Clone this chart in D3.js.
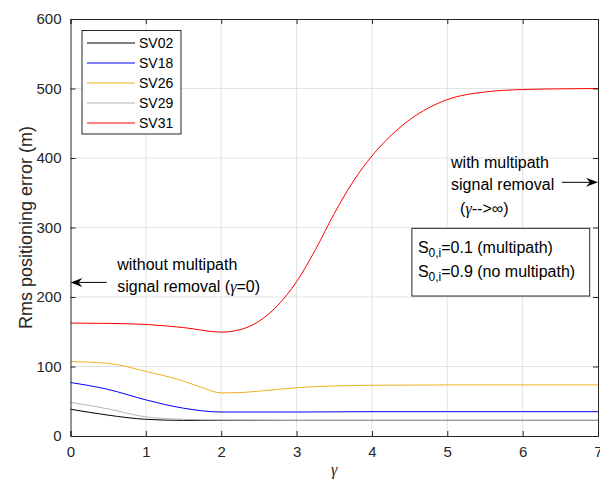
<!DOCTYPE html>
<html>
<head>
<meta charset="utf-8">
<script src="https://cdn.jsdelivr.net/npm/d3@7"></script>
<style>
  html, body { margin: 0; padding: 0; background: #fff; }
  svg { display: block; font-family: "Liberation Sans", Arial, Helvetica, sans-serif; }
</style>
</head>
<body>
<svg id="chart" width="600" height="484"></svg>
<script>
// RMS positioning error versus the weighting exponent gamma, per satellite
const seriesNames = ["SV02", "SV18", "SV26", "SV29", "SV31"];
const seriesColors = ["#000000", "#0000ff", "#edb120", "#b3b3b3", "#ff0000"];

const gammaSV02 = [0, 0.5, 1, 1.5, 2, 3, 4, 5, 6, 7];
const errSV02   = [38.5, 30, 24, 22.5, 22.5, 22.5, 22.5, 22.5, 22.5, 22.5];

const gammaSV18 = [0, 0.5, 1, 1.5, 2, 2.5, 3, 4, 5, 6, 7];
const errSV18   = [77, 67, 52, 40, 34.5, 34.5, 34.5, 35, 35, 35, 35];

const gammaSV26 = [0, 0.5, 1, 1.5, 1.75, 2, 2.25, 2.5, 3, 3.5, 4, 5, 6, 7];
const errSV26   = [107, 104.5, 93, 79, 69.5, 62, 62.5, 64.5, 69.5, 72, 73, 73.5, 73.5, 73.5];

const gammaSV29 = [0, 0.5, 1, 1.5, 2, 3, 4, 5, 6, 7];
const errSV29   = [48.5, 39, 27.5, 24, 23, 22.5, 22.5, 22.5, 22.5, 22.5];

const gammaSV31 = [0, 0.5, 1, 1.5, 2, 2.25, 2.5, 2.75, 3, 3.25, 3.5, 3.75, 4, 4.25, 4.5, 4.75, 5, 5.5, 6, 6.5, 7];
const errSV31   = [162.5, 162, 160.5, 156, 149.5, 153, 165, 188, 222, 268, 320, 366, 403, 432, 455, 472, 484, 495, 498.5, 499.5, 500];

const xTicks = [0, 1, 2, 3, 4, 5, 6, 7];
const yTicks = [0, 100, 200, 300, 400, 500, 600];

const seriesX = [gammaSV02, gammaSV18, gammaSV26, gammaSV29, gammaSV31];
const seriesY = [errSV02, errSV18, errSV26, errSV29, errSV31];

const W = 600, H = 484;
const margin = { left: 70.5, right: 2, top: 19, bottom: 48 };
const iw = W - margin.left - margin.right;
const ih = H - margin.top - margin.bottom;

const svg = d3.select("#chart");
const g = svg.append("g").attr("transform", `translate(${margin.left},${margin.top})`);

const x = d3.scaleLinear().domain([0, 7]).range([0, iw]);
const y = d3.scaleLinear().domain([0, 600]).range([ih, 0]);

const axisColor = "#262626";
const gridColor = "#e3e3e3";
const tickFont = 15;
const noteFont = 16;

// grid
g.append("g").selectAll("line").data(xTicks.slice(1, -1)).join("line")
  .attr("x1", d => x(d)).attr("x2", d => x(d))
  .attr("y1", 0).attr("y2", ih)
  .attr("stroke", gridColor).attr("stroke-width", 1);
g.append("g").selectAll("line").data(yTicks.slice(1, -1)).join("line")
  .attr("y1", d => y(d)).attr("y2", d => y(d))
  .attr("x1", 0).attr("x2", iw)
  .attr("stroke", gridColor).attr("stroke-width", 1);

// series
const line = d3.line()
  .x(d => x(d[0]))
  .y(d => y(d[1]))
  .curve(d3.curveMonotoneX);

seriesNames.forEach((name, i) => {
  const pts = seriesX[i].map((gv, k) => [gv, seriesY[i][k]]);
  g.append("path")
    .datum(pts)
    .attr("fill", "none")
    .attr("stroke", seriesColors[i])
    .attr("stroke-width", 1)
    .attr("d", line);
});

// axes (ticks point inward, box on all four sides)
const tickLen = 5;
const xAxisB = d3.axisBottom(x).tickValues(xTicks).tickSize(-tickLen).tickPadding(10).tickFormat(d3.format("d"));
const xAxisT = d3.axisTop(x).tickValues(xTicks).tickSize(-tickLen).tickFormat("");
const yAxisL = d3.axisLeft(y).tickValues(yTicks).tickSize(-tickLen).tickPadding(9).tickFormat(d3.format("d"));
const yAxisR = d3.axisRight(y).tickValues(yTicks).tickSize(-tickLen).tickFormat("");

function styleAxis(sel) {
  sel.selectAll(".domain").attr("stroke", axisColor).attr("stroke-width", 1);
  sel.selectAll(".tick line").attr("stroke", axisColor);
  sel.selectAll(".tick text")
    .attr("fill", axisColor)
    .attr("font-size", tickFont)
    .attr("font-family", "Liberation Sans, Arial, sans-serif");
}

g.append("g").attr("transform", `translate(0,${ih})`).call(xAxisB).call(styleAxis);
g.append("g").call(xAxisT).call(styleAxis);
g.append("g").call(yAxisL).call(styleAxis);
g.append("g").attr("transform", `translate(${iw},0)`).call(yAxisR).call(styleAxis);

// axis labels
svg.append("text")
  .attr("x", margin.left + iw / 2)
  .attr("y", 475)
  .attr("text-anchor", "middle")
  .attr("font-family", "Liberation Serif, Times New Roman, serif")
  .attr("font-style", "italic")
  .attr("font-size", 16)
  .attr("fill", axisColor)
  .text("γ");

svg.append("text")
  .attr("transform", `translate(32,${margin.top + ih / 2}) rotate(-90)`)
  .attr("text-anchor", "middle")
  .attr("font-size", 18)
  .attr("fill", axisColor)
  .text("Rms positioning error (m)");

// legend
const lg = g.append("g").attr("transform", `translate(${82 - margin.left},${30.5 - margin.top})`);
lg.append("rect")
  .attr("width", 99).attr("height", 103.5)
  .attr("fill", "#fff").attr("stroke", axisColor).attr("stroke-width", 1);
seriesNames.forEach((name, i) => {
  const yy = 12.5 + i * 20;
  lg.append("line")
    .attr("x1", 5).attr("x2", 53)
    .attr("y1", yy).attr("y2", yy)
    .attr("stroke", seriesColors[i]).attr("stroke-width", 1);
  lg.append("text")
    .attr("x", 57).attr("y", yy + 5)
    .attr("font-size", 14).attr("fill", "#000")
    .text(name);
});

// arrows with concave heads
function arrow(x0, y0, x1, y1) {
  const dx = x1 - x0, dy = y1 - y0;
  const len = Math.hypot(dx, dy);
  const ux = dx / len, uy = dy / len;
  const px = -uy, py = ux;
  const hl = 12, hw = 4.5, back = 8;
  g.append("line")
    .attr("x1", x0).attr("y1", y0)
    .attr("x2", x1 - ux * back).attr("y2", y1 - uy * back)
    .attr("stroke", "#000").attr("stroke-width", 1);
  const p = [
    [x1, y1],
    [x1 - ux * hl + px * hw, y1 - uy * hl + py * hw],
    [x1 - ux * back, y1 - uy * back],
    [x1 - ux * hl - px * hw, y1 - uy * hl - py * hw]
  ];
  g.append("path").attr("d", "M" + p.join("L") + "Z").attr("fill", "#000");
}

arrow(x(0.48), y(221), x(0), y(221));
arrow(x(6.52), y(365), x(7), y(365));

function annotText(gx, gv, parts) {
  const t = g.append("text")
    .attr("x", x(gx)).attr("y", y(gv))
    .attr("font-size", noteFont).attr("fill", "#000");
  parts.forEach(p => {
    const s = t.append("tspan").text(p.text);
    if (p.greek) {
      s.attr("font-family", "Liberation Serif, Times New Roman, serif").attr("font-style", "italic");
    }
    if (p.sub) {
      s.attr("font-size", 12).attr("dy", 4);
    }
    if (p.unsub) {
      s.attr("dy", -4);
    }
  });
}

annotText(0.62, 239, [{ text: "without multipath" }]);
annotText(0.62, 207.6, [{ text: "signal removal (" }, { text: "γ", greek: true }, { text: "=0)" }]);

annotText(5.05, 385.6, [{ text: "with multipath" }]);
annotText(5.05, 354, [{ text: "signal removal" }]);
annotText(5.17, 319.4, [{ text: "(" }, { text: "γ", greek: true }, { text: "-->∞)" }]);

// parameter box
g.append("rect")
  .attr("x", x(4.53)).attr("y", y(298.8))
  .attr("width", x(6.89) - x(4.53)).attr("height", y(201.4) - y(298.8))
  .attr("fill", "#fff").attr("stroke", axisColor).attr("stroke-width", 1);
annotText(4.61, 263.3, [{ text: "S" }, { text: "0,i", sub: true }, { text: "=0.1 (multipath)", unsub: true }]);
annotText(4.61, 229.2, [{ text: "S" }, { text: "0,i", sub: true }, { text: "=0.9 (no multipath)", unsub: true }]);
</script>
</body>
</html>
